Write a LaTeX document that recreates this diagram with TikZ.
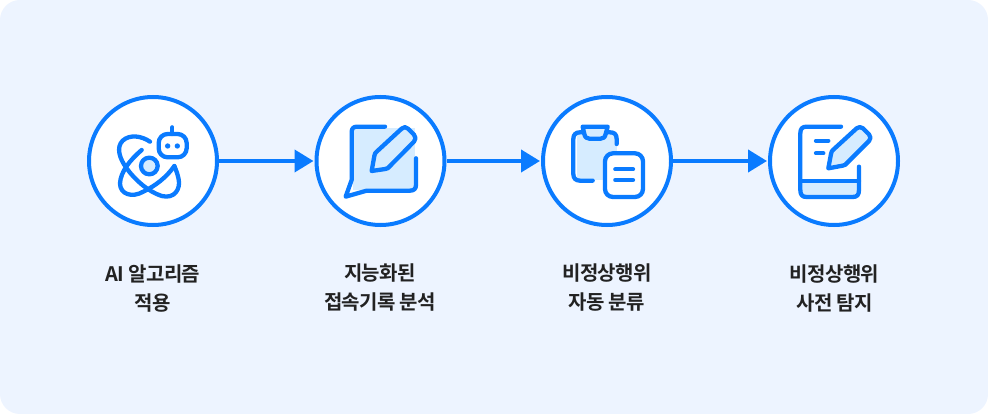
\documentclass[tikz,border=0pt]{standalone}
\usepackage{fontspec}
\setmainfont{Noto Sans CJK KR}[BoldFont={* Bold},LetterSpace=-3]
\usetikzlibrary{arrows.meta}
\definecolor{bgc}{HTML}{EDF4FF}
\definecolor{blu}{HTML}{0A7BFF}
\definecolor{lite}{HTML}{D6ECFF}
\definecolor{ink}{HTML}{222222}
\tikzset{
  x=1pt,y=-1pt,
  stepcircle/.style={circle,draw=blu,line width=4pt,fill=white,minimum size=128pt,inner sep=0pt,outer sep=2pt},
  link/.style={draw=blu,line width=4pt,-{Triangle[length=19pt,width=22pt]},shorten >=1pt},
  caption/.style={font=\bfseries\fontsize{20}{29}\selectfont,text=ink,align=center,inner sep=0pt,anchor=center},
  glyph/.style={draw=blu,line width=4.3pt,line cap=round,line join=round},
  icon/.style={x=0.3333pt,y=-0.3333pt},
}
\begin{document}
\begin{tikzpicture}
\useasboundingbox (0,0) rectangle (988,414);
\fill[white] (0,0) rectangle (988,414);
\fill[bgc,rounded corners=20pt] (0,0) rectangle (988,414);

\node[stepcircle] (c1) at (153,161) {};
\node[stepcircle] (c2) at (380.5,161) {};
\node[stepcircle] (c3) at (607,161) {};
\node[stepcircle] (c4) at (834,161) {};

\draw[link] (c1) -- (c2);
\draw[link] (c2) -- (c3);
\draw[link] (c3) -- (c4);

% icon 1
\begin{scope}[xshift=80pt,yshift=-90pt,icon]
  \draw[glyph] (210,155) .. controls (185,138) and (150,132) .. (128,152)
     .. controls (108,172) and (118,205) .. (140,235)
     .. controls (165,270) and (205,305) .. (245,318)
     .. controls (285,328) and (302,295) .. (296,268)
     .. controls (293,252) and (288,240) .. (283,228);
  \draw[glyph] (185,180) .. controls (150,210) and (122,245) .. (120,280)
     .. controls (120,312) and (155,325) .. (190,305)
     .. controls (225,288) and (260,262) .. (283,228);
  \draw[glyph,fill=lite] (208,228) circle[radius=25];
  \draw[glyph,rounded corners=9pt] (236,132) rectangle (320,202);
  \draw[glyph] (277,112) -- (277,132);
  \fill[blu] (263,168) circle[radius=8];
  \fill[blu] (292,168) circle[radius=8];
\end{scope}

% icon 2
\begin{scope}[xshift=310pt,yshift=-90pt,icon]
  \fill[lite] (130,115) rectangle (316,300);
  \draw[glyph] (225,110) -- (142,110) .. controls (130,110) and (125,115) .. (125,127)
    -- (125,270) -- (107,320) -- (170,302) -- (300,302)
    .. controls (312,302) and (318,296) .. (318,285) -- (318,205);
  \draw[glyph,fill=lite] (275,116) .. controls (281,110) and (288,110) .. (294,116)
    -- (312,134) .. controls (318,141) and (318,148) .. (312,155)
    -- (240,228) .. controls (236,234) and (232,236) .. (226,237)
    -- (185,243) -- (193,198) .. controls (194,192) and (196,188) .. (200,185) -- cycle;
\end{scope}

% icon 3
\begin{scope}[xshift=535pt,yshift=-90pt,icon]
  \fill[lite] (125,130) rectangle (245,270);
  \draw[glyph] (245,162) -- (245,147) .. controls (245,133) and (238,127) .. (225,127)
    -- (135,127) .. controls (122,127) and (115,134) .. (115,147)
    -- (115,252) .. controls (115,265) and (122,272) .. (135,272) -- (173,272);
  \draw[glyph,fill=lite] (143,110) -- (218,110) -- (212,132)
    .. controls (210,142) and (205,146) .. (197,146) -- (163,146)
    .. controls (155,146) and (150,142) .. (148,132) -- cycle;
  \draw[glyph,fill=white,rounded corners=8pt] (210,190) rectangle (324,321);
  \draw[glyph] (241,238) -- (294,238);
  \draw[glyph] (241,270) -- (294,270);
\end{scope}

% icon 4
\begin{scope}[xshift=760pt,yshift=-90pt,icon]
  \fill[lite] (125,275) rectangle (295,318);
  \draw[glyph] (243,110) -- (140,110) .. controls (127,110) and (121,116) .. (121,130)
    -- (121,300) .. controls (121,315) and (127,321) .. (140,321)
    -- (278,321) .. controls (291,321) and (297,315) .. (297,300) -- (297,230);
  \draw[glyph] (121,272) -- (297,272);
  \draw[glyph] (168,152) -- (205,152);
  \draw[glyph] (168,190) -- (190,190);
  \draw[glyph,fill=lite] (290,115) .. controls (296,110) and (303,110) .. (309,115)
    -- (327,133) .. controls (333,140) and (333,147) .. (327,153)
    -- (262,218) .. controls (258,224) and (254,226) .. (248,227)
    -- (205,235) -- (213,192) .. controls (214,186) and (216,182) .. (220,179) -- cycle;
\end{scope}

\node[caption] (t1) at (153,288) {AI 알고리즘\\적용};
\node[caption] (t2) at (380,288) {지능화된\\접속기록 분석};
\node[caption] (t3) at (607,288) {비정상행위\\자동 분류};
\node[caption] (t4) at (834.5,288) {비정상행위\\사전 탐지};
\end{tikzpicture}
\end{document}
